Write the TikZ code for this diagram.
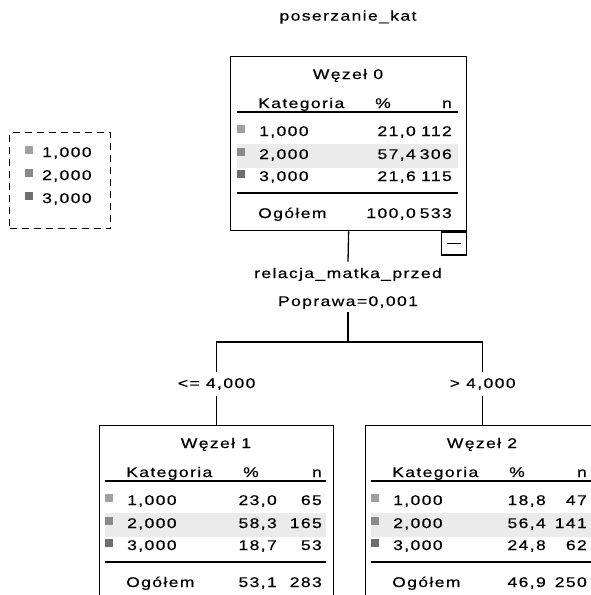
\documentclass[tikz,border=0pt]{standalone}
\usepackage{fontspec}
\setmainfont{Liberation Sans}[FakeStretch=1.25,LetterSpace=10,FakeBold=0.4]
\definecolor{hl}{HTML}{EBEBEB}
\definecolor{cA}{HTML}{A0A0A0}
\definecolor{cB}{HTML}{8A8A8A}
\definecolor{cC}{HTML}{6E6E6E}
\tikzset{
  txt/.style={inner sep=0pt, font=\fontsize{14}{16}\selectfont},
  boxframe/.style={draw, line width=1.3pt, inner sep=0pt},
  rule/.style={line width=1.3pt},
  conn/.style={line width=1.3pt},
}
\newcommand\bxrow[6]{%
  \fill[#3] ({\bxL+7},{\bxT+#2-11}) rectangle ({\bxL+15},{\bxT+#2-3});
  \node[txt,anchor=base west] (#1-l) at ({\bxL+29},{\bxT+#2}) {#4};
  \node[txt,anchor=base east] (#1-p) at ({\bxL+\bxP},{\bxT+#2}) {#5};
  \node[txt,anchor=base east] (#1-n) at ({\bxL+\bxN},{\bxT+#2}) {#6};
}
\newcommand\bxhead[2]{%
  \node[txt,anchor=base] (#1-t) at ({\bxL+118},{\bxT+23}) {#2};
  \node[txt,anchor=base west] (#1-hk) at ({\bxL+28},{\bxT+52}) {Kategoria};
  \node[txt,anchor=base] (#1-hp) at ({\bxL+153},{\bxT+52}) {\%};
  \node[txt,anchor=base east] (#1-hn) at ({\bxL+\bxN},{\bxT+52}) {n};
  \fill[hl] ({\bxL+7},{\bxT+88}) rectangle ({\bxL+228},{\bxT+112});
  \draw[rule] ({\bxL+7},{\bxT+56}) -- ({\bxL+228},{\bxT+56});
  \draw[rule] ({\bxL+7},{\bxT+137}) -- ({\bxL+228},{\bxT+137});
}
\newcommand\bxtotal[3]{%
  \node[txt,anchor=base west] (#1-ol) at ({\bxL+28},{\bxT+162}) {Ogółem};
  \node[txt,anchor=base east] (#1-op) at ({\bxL+\bxP},{\bxT+162}) {#2};
  \node[txt,anchor=base east] (#1-on) at ({\bxL+\bxN},{\bxT+162}) {#3};
}
\begin{document}
\begin{tikzpicture}[x=1pt,y=-1pt]
\clip (0,0) rectangle (591,595);
\fill[white] (0,0) rectangle (591,595);

% title
\node[txt] (title) at (348,17) {poserzanie\_kat};

% legend
\node[draw, line width=1.3pt, dash pattern=on 7pt off 5pt, minimum width=101pt, minimum height=96pt, anchor=north west, inner sep=0pt] (legend) at (9,132) {};
\fill[cA] (25,146) rectangle (33,154);
\node[txt,anchor=base west] (lg1) at (42,157) {1,000};
\fill[cB] (25,169) rectangle (33,177);
\node[txt,anchor=base west] (lg2) at (42,180) {2,000};
\fill[cC] (25,192) rectangle (33,200);
\node[txt,anchor=base west] (lg3) at (42,203) {3,000};

% root node
\node[boxframe, minimum width=236pt, minimum height=174pt, anchor=north west] (root) at (230,56) {};
\def\bxL{230}\def\bxT{56}\def\bxP{186}\def\bxN{222}
\bxhead{r}{Węzeł 0}
\bxrow{r1}{80}{cA}{1,000}{21,0}{112}
\bxrow{r2}{103}{cB}{2,000}{57,4}{306}
\bxrow{r3}{125}{cC}{3,000}{21,6}{115}
\bxtotal{r}{100,0}{533}
\node[boxframe, minimum width=25pt, minimum height=23pt, anchor=north east] (collapse) at (root.south east) {};
\draw[line width=1.3pt] ([xshift=-6pt]collapse.east) -- ([xshift=6pt]collapse.west);

% split labels
\node[txt, anchor=base, inner ysep=6pt] (split1) at (348,278) {relacja\_matka\_przed};
\node[txt, anchor=base, inner ysep=3pt] (split2) at (348,306) {Poprawa=0,001};
\coordinate (bar) at (348,342);

% child 1
\node[boxframe, minimum width=234pt, minimum height=200pt, anchor=north west] (box1) at (99,425) {};
\def\bxL{98}\def\bxT{425}\def\bxP{179}\def\bxN{224}
\bxhead{a}{Węzeł 1}
\bxrow{a1}{80}{cA}{1,000}{23,0}{65}
\bxrow{a2}{103}{cB}{2,000}{58,3}{165}
\bxrow{a3}{125}{cC}{3,000}{18,7}{53}
\bxtotal{a}{53,1}{283}

% child 2
\node[boxframe, minimum width=234pt, minimum height=200pt, anchor=north west] (box2) at (365,425) {};
\def\bxL{364}\def\bxT{425}\def\bxP{182}\def\bxN{223}
\bxhead{b}{Węzeł 2}
\bxrow{b1}{80}{cA}{1,000}{18,8}{47}
\bxrow{b2}{103}{cB}{2,000}{56,4}{141}
\bxrow{b3}{125}{cC}{3,000}{24,8}{62}
\bxtotal{b}{46,9}{250}

% branch labels
\node[txt, inner ysep=6pt] (lab1) at (box1.north |- 0,384) {<= 4,000};
\node[txt, inner ysep=6pt] (lab2) at (box2.north |- 0,384) {> 4,000};

% connectors
\draw[conn] (root.south) -- (split1.north);
\draw[conn] (split2.south) -- (bar);
\draw[conn] (bar) -| (lab1.north);
\draw[conn] (bar) -| (lab2.north);
\draw[conn] (lab1.south) -- (box1.north);
\draw[conn] (lab2.south) -- (box2.north);
\end{tikzpicture}
\end{document}
